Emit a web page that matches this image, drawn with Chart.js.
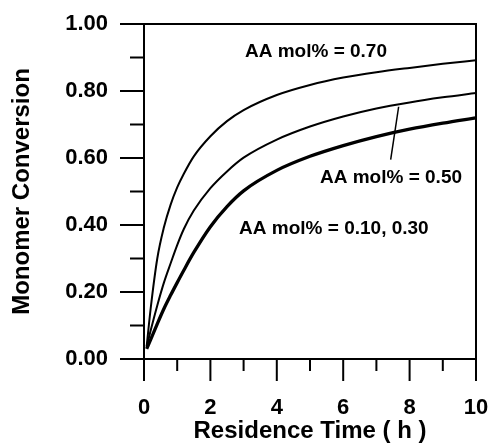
<!DOCTYPE html>
<html>
<head>
<meta charset="utf-8">
<script src="https://cdn.jsdelivr.net/npm/chart.js@4/dist/chart.umd.min.js"></script>
<style>
  html, body { margin: 0; padding: 0; background: #fff; }
  #wrap { width: 492px; height: 446px; }
</style>
</head>
<body>
<div id="wrap"><canvas id="c" width="492" height="446"></canvas></div>
<script>
  // data
  const time    = [0.08, 0.2, 0.4, 0.6, 0.8, 1.0, 1.2, 1.5, 2.0, 2.5, 3.0, 4.0, 5.0, 6.0, 7.0, 8.0, 9.0, 10];
  const conv70  = [0.037, 0.15, 0.30, 0.393, 0.46, 0.512, 0.553, 0.605, 0.665, 0.71, 0.743, 0.788, 0.818, 0.84, 0.856, 0.869, 0.881, 0.892];
  const conv50  = [0.037, 0.085, 0.16, 0.228, 0.285, 0.34, 0.388, 0.443, 0.51, 0.56, 0.601, 0.655, 0.694, 0.724, 0.748, 0.766, 0.781, 0.794];
  const conv10  = [0.03, 0.058, 0.105, 0.15, 0.19, 0.228, 0.265, 0.318, 0.395, 0.455, 0.502, 0.563, 0.605, 0.637, 0.664, 0.686, 0.704, 0.72];

  // leader line from the 0.50 label to its curve
  const leaderX = [7.67, 7.43];
  const leaderY = [0.753, 0.595];

  // tick positions
  const xMajor = [0, 2, 4, 6, 8, 10];
  const xMinor = [1, 3, 5, 7, 9];
  const yMajor = [0, 0.2, 0.4, 0.6, 0.8, 1.0];
  const yMinor = [0.1, 0.3, 0.5, 0.7, 0.9];

  // curve labels (text, x, y in data units)
  const labelText = ['AA mol% = 0.70', 'AA mol% = 0.50', 'AA mol% = 0.10, 0.30'];
  const labelX = [5.18, 7.44, 5.72];
  const labelY = [0.918, 0.541, 0.389];

  const FONT = '"Liberation Sans", Arial, sans-serif';

  function pts(xs, ys) { return xs.map((x, i) => ({ x: x, y: ys[i] })); }

  const lineDefaults = { borderColor: '#000', pointRadius: 0, fill: false, cubicInterpolationMode: 'monotone' };

  // invisible tick marks push the labels out without adding edge padding
  const hiddenTicks = { display: true, drawOnChartArea: false, drawTicks: true, tickLength: 33, tickColor: 'rgba(0,0,0,0)' };

  const decor = {
    id: 'decor',
    afterDraw(chart) {
      const c = chart.ctx, xs = chart.scales.x, ys = chart.scales.y, a = chart.chartArea;
      c.save();
      c.strokeStyle = '#000';
      c.lineWidth = 2;
      // frame
      c.beginPath();
      c.moveTo(a.left, a.top); c.lineTo(a.right, a.top); c.lineTo(a.right, a.bottom);
      c.moveTo(a.left, a.top); c.lineTo(a.left, a.bottom); c.lineTo(a.right, a.bottom);
      c.stroke();
      // ticks
      c.beginPath();
      xMajor.forEach(v => { const p = xs.getPixelForValue(v); c.moveTo(p, a.bottom); c.lineTo(p, a.bottom + 22); });
      xMinor.forEach(v => { const p = xs.getPixelForValue(v); c.moveTo(p, a.bottom); c.lineTo(p, a.bottom + 12); });
      yMajor.forEach(v => { const p = ys.getPixelForValue(v); c.moveTo(a.left, p); c.lineTo(a.left - 24, p); });
      yMinor.forEach(v => { const p = ys.getPixelForValue(v); c.moveTo(a.left, p); c.lineTo(a.left - 14, p); });
      c.stroke();
      // labels
      c.fillStyle = '#000';
      c.font = 'bold 19px ' + FONT;
      c.textAlign = 'center';
      c.textBaseline = 'middle';
      labelText.forEach((t, i) => c.fillText(t, xs.getPixelForValue(labelX[i]), ys.getPixelForValue(labelY[i])));
      c.restore();
    }
  };

  new Chart(document.getElementById('c'), {
    type: 'line',
    data: {
      datasets: [
        Object.assign({ label: '0.70', data: pts(time, conv70), borderWidth: 2 }, lineDefaults),
        Object.assign({ label: '0.50', data: pts(time, conv50), borderWidth: 2 }, lineDefaults),
        Object.assign({ label: '0.10, 0.30', data: pts(time, conv10), borderWidth: 3.3 }, lineDefaults),
        { label: 'leader', data: pts(leaderX, leaderY), borderColor: '#000', borderWidth: 1.5, pointRadius: 0, tension: 0 }
      ]
    },
    options: {
      responsive: false,
      animation: false,
      devicePixelRatio: 1,
      layout: { padding: { left: 0, right: 16, top: 24, bottom: 0 } },
      plugins: { legend: { display: false }, tooltip: { enabled: false } },
      scales: {
        x: {
          type: 'linear', min: 0, max: 10,
          grid: hiddenTicks,
          border: { display: false },
          ticks: { stepSize: 2, padding: 3, color: '#000', font: { family: FONT, size: 22, weight: 'bold' } },
          title: { display: true, text: 'Residence Time ( h )', color: '#000', padding: { top: 0, bottom: 0 },
                   font: { family: FONT, size: 24, weight: 'bold' } },
          afterFit(s) { s.height = 87; }
        },
        y: {
          min: 0, max: 1,
          grid: hiddenTicks,
          border: { display: false },
          ticks: { stepSize: 0.2, padding: 3, color: '#000', font: { family: FONT, size: 22, weight: 'bold' },
                   callback: v => v.toFixed(2) },
          title: { display: true, text: 'Monomer Conversion', color: '#000', padding: { top: 8, bottom: 0 },
                   font: { family: FONT, size: 24, weight: 'bold' } },
          afterFit(s) { s.width = 144; }
        }
      }
    },
    plugins: [decor]
  });
</script>
</body>
</html>
